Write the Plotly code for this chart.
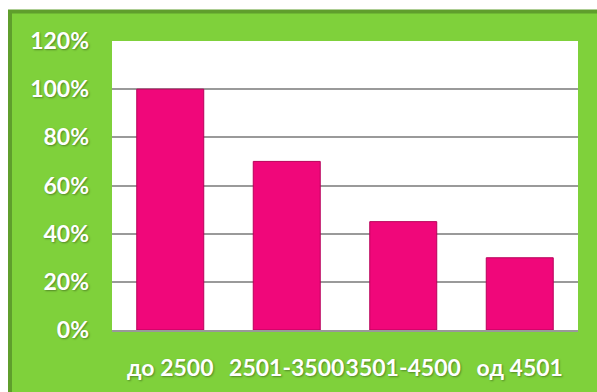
import plotly.graph_objects as go

categories = ["до 2500", "2501-3500", "3501-4500", "од 4501"]
values = [1.00, 0.70, 0.45, 0.30]
tick_vals = [0, 0.2, 0.4, 0.6, 0.8, 1.0, 1.2]
tick_text = ["0%", "20%", "40%", "60%", "80%", "100%", "120%"]

W, H = 597, 392
L, R, T, B = 112, 19, 41, 62
pw, ph = W - L - R, H - T - B

def px_x(x):
    return (x - L) / pw

def px_y(y):
    return (H - B - y) / ph

fig = go.Figure()
fig.add_trace(go.Bar(
    x=categories, y=values,
    marker=dict(color="#F0077A", line=dict(color="#B8005A", width=1)),
    width=0.575,
))

font = dict(family="Lato, Open Sans, sans-serif", size=23, color="white", weight="bold",
            shadow="1px 1px 2px rgba(0,0,0,0.35)")

fig.update_layout(
    width=W, height=H,
    margin=dict(l=L, r=R, t=T, b=B),
    paper_bgcolor="white",
    plot_bgcolor="white",
    showlegend=False,
    bargap=0.425,
    shapes=[
        dict(type="rect", xref="paper", yref="paper", layer="below",
             x0=px_x(10), x1=px_x(W + 20), y0=px_y(H + 20), y1=px_y(11.5),
             fillcolor="#7FD13B", line=dict(color="#5F9E2C", width=4)),
        dict(type="rect", xref="paper", yref="paper", layer="below",
             x0=0, x1=1, y0=0, y1=1,
             fillcolor="white", line=dict(width=0)),
    ],
    xaxis=dict(
        tickfont=font, showgrid=False, ticks="", ticklabelstandoff=16,
        tickangle=0, automargin=False,
        showline=True, linecolor="#999999", linewidth=2,
    ),
    yaxis=dict(
        range=[0, 1.2], tickvals=tick_vals, ticktext=tick_text,
        tickfont=font, showgrid=True, gridcolor="#9a9a9a", gridwidth=2,
        zeroline=False, ticks="", ticklabelstandoff=22, automargin=False,
    ),
)

fig.write_html("out.html")
